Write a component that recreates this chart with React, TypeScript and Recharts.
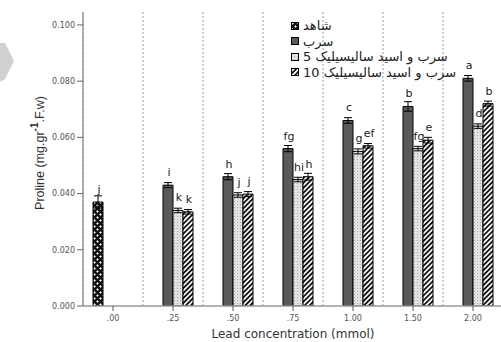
import React from 'react';
import { BarChart, Bar, XAxis, YAxis, CartesianGrid, ErrorBar, LabelList, Legend } from 'recharts';

const concentrations = ['.00', '.25', '.50', '.75', '1.00', '1.50', '2.00'];

const controlValues = [0.037, null, null, null, null, null, null];
const leadValues = [null, 0.043, 0.046, 0.056, 0.066, 0.071, 0.081];
const sa5Values = [null, 0.034, 0.0395, 0.045, 0.055, 0.056, 0.064];
const sa10Values = [null, 0.0335, 0.0398, 0.046, 0.057, 0.059, 0.072];

const controlErrors = [0.0022, null, null, null, null, null, null];
const leadErrors = [null, 0.0009, 0.0011, 0.0011, 0.001, 0.0017, 0.001];
const sa5Errors = [null, 0.0008, 0.0008, 0.0008, 0.0009, 0.0008, 0.0008];
const sa10Errors = [null, 0.0008, 0.0009, 0.0012, 0.0008, 0.001, 0.0009];

const controlLetters = ['j', '', '', '', '', '', ''];
const leadLetters = ['', 'i', 'h', 'fg', 'c', 'b', 'a'];
const sa5Letters = ['', 'k', 'j', 'hi', 'g', 'fg', 'd'];
const sa10Letters = ['', 'k', 'j', 'h', 'ef', 'e', 'b'];

const yTicks = [0, 0.02, 0.04, 0.06, 0.08, 0.1];

const seriesNames = ['شاهد', 'سرب', 'سرب و اسید سالیسیلیک 5', 'سرب و اسید سالیسیلیک 10'];
const seriesFills = ['url(#pat-control)', '#5a5a5a', 'url(#pat-sa5)', 'url(#pat-sa10)'];

const data = concentrations.map((c, i) => ({
  conc: c,
  control: controlValues[i],
  lead: leadValues[i],
  sa5: sa5Values[i],
  sa10: sa10Values[i],
  controlErr: controlErrors[i],
  leadErr: leadErrors[i],
  sa5Err: sa5Errors[i],
  sa10Err: sa10Errors[i],
  controlLetter: controlLetters[i],
  leadLetter: leadLetters[i],
  sa5Letter: sa5Letters[i],
  sa10Letter: sa10Letters[i],
}));

const renderLetter = (props: any) => {
  const { x, y, width, value } = props;
  if (!value) return null;
  return (
    <text
      x={x + width / 2 + 1}
      y={y - 9}
      textAnchor="middle"
      fontSize={11}
      fill="#1a1a1a"
      style={{ fill: '#1a1a1a' }}
      fontFamily="DejaVu Sans"
    >
      {value}
    </text>
  );
};

const YLabel = ({ viewBox }: any) => {
  const cx = viewBox.x + 27;
  const cy = viewBox.y + 141;
  return (
    <text
      x={cx}
      y={cy}
      transform={`rotate(-90 ${cx} ${cy})`}
      textAnchor="middle"
      dominantBaseline="central"
      fontSize={12.5}
      fill="#333"
      fontFamily="Liberation Sans"
    >
      Proline (mg.gr
      <tspan dy={-6} fontSize={10} fontWeight="bold">-1</tspan>
      <tspan dy={6}>.F.w)</tspan>
    </text>
  );
};

const LegendBox = () => (
  <div style={{ fontFamily: 'DejaVu Sans', fontSize: 13, color: '#222', lineHeight: '15px' }}>
    {seriesNames.map((name, i) => (
      <div key={name} style={{ display: 'flex', alignItems: 'center', height: 15.5 }}>
        <svg width={8} height={8} style={{ marginRight: 4 }}>
          <rect x={0.5} y={0.5} width={7} height={7} fill={seriesFills[i]} stroke="#000" />
        </svg>
        <span>{name}</span>
      </div>
    ))}
  </div>
);

const gridLines = ({ offset }: any) => {
  const n = concentrations.length;
  return Array.from({ length: n + 1 }, (_, i) => offset.left + (i * offset.width) / n);
};

const App: React.FC = () => {
  return (
    <div style={{ position: 'absolute', left: 0, top: 0, width: 501, height: 342, overflow: 'hidden', background: '#fff' }}>
      {/* grey scan artifact at top left */}
      <svg width={20} height={90} style={{ position: 'absolute', left: 0, top: 0 }}>
        <polygon points="0,43 5,43 14,61 5,79 0,82" fill="#d0d0d0" />
      </svg>
      <BarChart
        width={503}
        height={342}
        data={data}
        margin={{ top: 12, right: 0, bottom: 0, left: 0 }}
        barCategoryGap={10}
        barGap={0}
      >
        <defs>
          <pattern id="pat-control" width="6" height="6" patternUnits="userSpaceOnUse">
            <rect width="6" height="6" fill="#111" />
            <path d="M1.5 0.3 V2.7 M0.3 1.5 H2.7 M4.5 3.3 V5.7 M3.3 4.5 H5.7" stroke="#fff" strokeWidth="0.9" />
          </pattern>
          <pattern id="pat-sa5" width="3" height="3" patternUnits="userSpaceOnUse">
            <rect width="3" height="3" fill="#e2e2e2" />
            <rect width="1" height="1" fill="#aaa" />
          </pattern>
          <pattern id="pat-sa10" width="3.5" height="3.5" patternUnits="userSpaceOnUse" patternTransform="rotate(45)">
            <rect width="3.5" height="3.5" fill="#fff" />
            <rect width="1.8" height="3.5" fill="#111" />
          </pattern>
        </defs>
        <CartesianGrid
          yAxisId="main"
          horizontal={false}
          stroke="#999"
          strokeDasharray="2 2"
          verticalCoordinatesGenerator={gridLines}
        />
        <XAxis
          dataKey="conc"
          height={36}
          axisLine={{ stroke: '#999', strokeWidth: 1.5 }}
          tickLine={{ stroke: '#555' }}
          tickSize={5}
          tickMargin={4}
          tick={{ fontSize: 8, fill: '#555', fontFamily: 'DejaVu Sans' }}
          label={{ value: 'Lead concentration (mmol)', position: 'insideBottom', offset: 4, fontSize: 12, fill: '#333', fontFamily: 'DejaVu Sans' }}
        />
        <YAxis yAxisId="sp" width={13} domain={[0, 0.1046]} tick={false} axisLine={false} tickLine={false} />
        <YAxis
          yAxisId="main"
          width={70}
          domain={[0, 0.1046]}
          ticks={yTicks}
          allowDataOverflow
          tickFormatter={(v: number) => v.toFixed(3)}
          axisLine={{ stroke: '#999', strokeWidth: 1.5 }}
          tickLine={{ stroke: '#666' }}
          tickSize={6}
          tickMargin={2}
          tick={{ fontSize: 8, fill: '#555', fontFamily: 'DejaVu Sans' }}
          label={(props: any) => <YLabel {...props} />}
        />
        <Legend
          layout="horizontal"
          verticalAlign="middle"
          content={() => <LegendBox />}
          wrapperStyle={{ top: 18, left: 291, width: 'auto' }}
        />
        <Bar yAxisId="main" dataKey="control" fill={seriesFills[0]} stroke="#000" strokeWidth={1} isAnimationActive={false}>
          <ErrorBar dataKey="controlErr" width={4} stroke="#000" strokeWidth={1} direction="y" />
          <LabelList dataKey="controlLetter" content={renderLetter} />
        </Bar>
        <Bar yAxisId="main" dataKey="lead" fill={seriesFills[1]} stroke="#000" strokeWidth={1} isAnimationActive={false}>
          <ErrorBar dataKey="leadErr" width={4} stroke="#000" strokeWidth={1} direction="y" />
          <LabelList dataKey="leadLetter" content={renderLetter} />
        </Bar>
        <Bar yAxisId="main" dataKey="sa5" fill={seriesFills[2]} stroke="#000" strokeWidth={1} isAnimationActive={false}>
          <ErrorBar dataKey="sa5Err" width={4} stroke="#000" strokeWidth={1} direction="y" />
          <LabelList dataKey="sa5Letter" content={renderLetter} />
        </Bar>
        <Bar yAxisId="main" dataKey="sa10" fill={seriesFills[3]} stroke="#000" strokeWidth={1} isAnimationActive={false}>
          <ErrorBar dataKey="sa10Err" width={4} stroke="#000" strokeWidth={1} direction="y" />
          <LabelList dataKey="sa10Letter" content={renderLetter} />
        </Bar>
      </BarChart>
    </div>
  );
};

export default App;
